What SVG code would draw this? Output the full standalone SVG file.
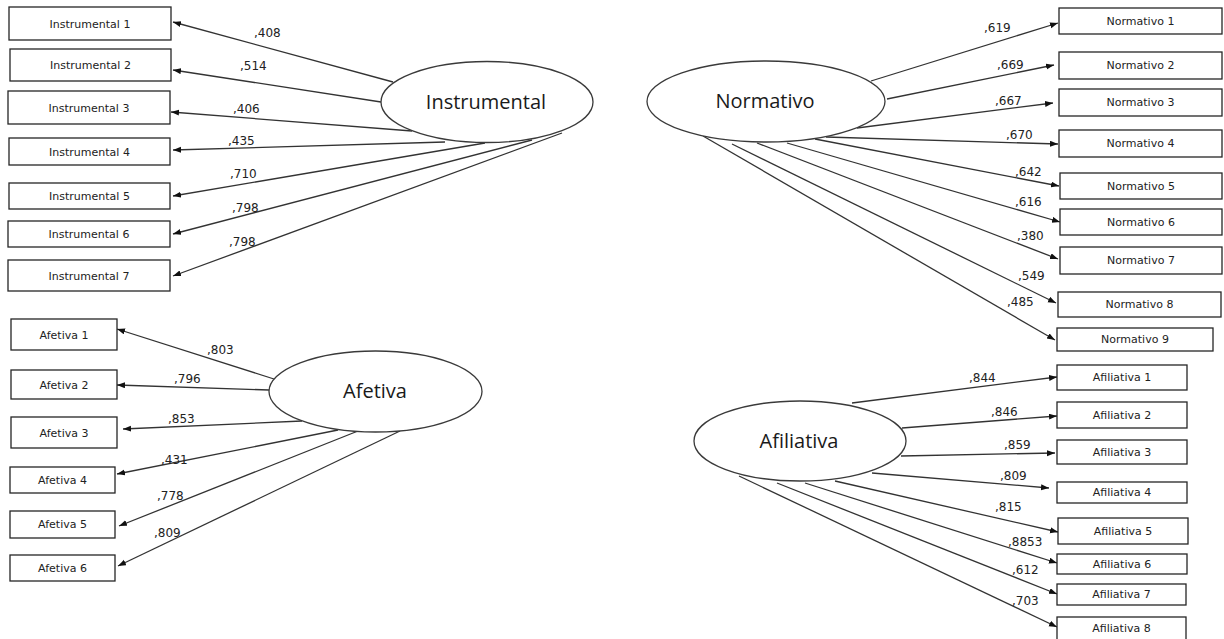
<svg xmlns="http://www.w3.org/2000/svg" width="1224" height="639" viewBox="0 0 1224 639">
<defs>
<style>
.box{fill:#fff;stroke:#262626;stroke-width:1.3}
.lat{fill:#fff;stroke:#3a3a3a;stroke-width:1.3}
.bt{font-family:"DejaVu Sans",Verdana,sans-serif;font-size:11px;fill:#222;text-anchor:middle}
.lt{font-family:"Open Sans",sans-serif;font-size:20px;fill:#1a1a1a;text-anchor:middle}
.num{font-family:"DejaVu Sans",Verdana,sans-serif;font-size:12px;fill:#222}
.c{stroke:#333;stroke-width:1.3;fill:none;marker-end:url(#ah)}
</style>
<marker id="ah" markerUnits="userSpaceOnUse" markerWidth="9" markerHeight="7" refX="8" refY="3" orient="auto">
<path d="M0,0 L8,3 L0,6 z" fill="#111"/>
</marker>
</defs>
<rect width="1224" height="639" fill="#fff"/>

<g id="connectors">
<line class="c" x1="393" y1="82" x2="173" y2="22"/>
<line class="c" x1="381" y1="102" x2="173" y2="70"/>
<line class="c" x1="412" y1="131" x2="171" y2="112"/>
<line class="c" x1="445" y1="142" x2="173" y2="150"/>
<line class="c" x1="485" y1="143" x2="173" y2="196"/>
<line class="c" x1="532" y1="140" x2="173" y2="234"/>
<line class="c" x1="562" y1="133" x2="173" y2="276"/>

<line class="c" x1="871" y1="81" x2="1058" y2="23"/>
<line class="c" x1="887" y1="99" x2="1054" y2="65"/>
<line class="c" x1="857" y1="128" x2="1053" y2="103"/>
<line class="c" x1="826" y1="137" x2="1058" y2="144"/>
<line class="c" x1="815" y1="139" x2="1059" y2="186"/>
<line class="c" x1="787" y1="143" x2="1060" y2="222"/>
<line class="c" x1="757" y1="143" x2="1058" y2="259"/>
<line class="c" x1="732" y1="144" x2="1056" y2="303"/>
<line class="c" x1="703" y1="136" x2="1055" y2="340"/>

<line class="c" x1="274" y1="379" x2="117" y2="329"/>
<line class="c" x1="269" y1="390" x2="117" y2="385"/>
<line class="c" x1="302" y1="421" x2="123" y2="429"/>
<line class="c" x1="338" y1="430" x2="117" y2="474"/>
<line class="c" x1="358" y1="431" x2="119" y2="526"/>
<line class="c" x1="400" y1="431" x2="118" y2="566"/>

<line class="c" x1="852" y1="403" x2="1057" y2="377"/>
<line class="c" x1="902" y1="428" x2="1057" y2="416"/>
<line class="c" x1="901" y1="456" x2="1055" y2="453"/>
<line class="c" x1="872" y1="473" x2="1049" y2="488"/>
<line class="c" x1="835" y1="481" x2="1058" y2="532"/>
<line class="c" x1="805" y1="483" x2="1057" y2="563"/>
<line class="c" x1="777" y1="483" x2="1057" y2="594"/>
<line class="c" x1="739" y1="476" x2="1057" y2="627"/>
</g>

<g id="loadings">
<text class="num" x="254" y="37">,408</text>
<text class="num" x="240" y="70">,514</text>
<text class="num" x="233" y="113">,406</text>
<text class="num" x="228" y="145">,435</text>
<text class="num" x="230" y="178">,710</text>
<text class="num" x="232" y="212">,798</text>
<text class="num" x="229" y="246">,798</text>

<text class="num" x="984" y="32">,619</text>
<text class="num" x="997" y="69">,669</text>
<text class="num" x="995" y="105">,667</text>
<text class="num" x="1006" y="139">,670</text>
<text class="num" x="1015" y="176">,642</text>
<text class="num" x="1015" y="206">,616</text>
<text class="num" x="1017" y="240">,380</text>
<text class="num" x="1018" y="280">,549</text>
<text class="num" x="1007" y="306">,485</text>

<text class="num" x="207" y="354">,803</text>
<text class="num" x="174" y="383">,796</text>
<text class="num" x="168" y="423">,853</text>
<text class="num" x="161" y="464">,431</text>
<text class="num" x="157" y="500">,778</text>
<text class="num" x="154" y="537">,809</text>

<text class="num" x="969" y="382">,844</text>
<text class="num" x="991" y="416">,846</text>
<text class="num" x="1004" y="449">,859</text>
<text class="num" x="1000" y="480">,809</text>
<text class="num" x="995" y="511">,815</text>
<text class="num" x="1008" y="546">,8853</text>
<text class="num" x="1012" y="574">,612</text>
<text class="num" x="1012" y="605">,703</text>
</g>

<g id="instrumental"><ellipse class="lat" cx="487" cy="102" rx="106" ry="40.5"/><text class="lt" x="486" y="109">Instrumental</text></g>
<g id="normativo"><ellipse class="lat" cx="766" cy="101.5" rx="119" ry="40.5"/><text class="lt" x="765" y="108">Normativo</text></g>
<g id="afetiva"><ellipse class="lat" cx="375.5" cy="391.5" rx="106.5" ry="40.5"/><text class="lt" x="375" y="398">Afetiva</text></g>
<g id="afiliativa"><ellipse class="lat" cx="800" cy="441" rx="106" ry="40"/><text class="lt" x="799" y="448">Afiliativa</text></g>

<g id="instrumental1"><rect class="box" x="9" y="7" width="162" height="33"/><text class="bt" x="90" y="28">Instrumental 1</text></g>
<g id="instrumental2"><rect class="box" x="10" y="49" width="161" height="32"/><text class="bt" x="90.5" y="69">Instrumental 2</text></g>
<g id="instrumental3"><rect class="box" x="8" y="91" width="162" height="33"/><text class="bt" x="89" y="112">Instrumental 3</text></g>
<g id="instrumental4"><rect class="box" x="9" y="138" width="161" height="27"/><text class="bt" x="89.5" y="156">Instrumental 4</text></g>
<g id="instrumental5"><rect class="box" x="9" y="183" width="161" height="26"/><text class="bt" x="89.5" y="200">Instrumental 5</text></g>
<g id="instrumental6"><rect class="box" x="8" y="221" width="162" height="26"/><text class="bt" x="89" y="238">Instrumental 6</text></g>
<g id="instrumental7"><rect class="box" x="8" y="260" width="162" height="31"/><text class="bt" x="89" y="280">Instrumental 7</text></g>

<g id="normativo1"><rect class="box" x="1059" y="8" width="163" height="26"/><text class="bt" x="1140.5" y="25">Normativo 1</text></g>
<g id="normativo2"><rect class="box" x="1059" y="52" width="163" height="27"/><text class="bt" x="1140.5" y="69">Normativo 2</text></g>
<g id="normativo3"><rect class="box" x="1059" y="89" width="163" height="27"/><text class="bt" x="1140.5" y="106">Normativo 3</text></g>
<g id="normativo4"><rect class="box" x="1059" y="130" width="163" height="27"/><text class="bt" x="1140.5" y="147">Normativo 4</text></g>
<g id="normativo5"><rect class="box" x="1060" y="173" width="162" height="26"/><text class="bt" x="1141" y="190">Normativo 5</text></g>
<g id="normativo6"><rect class="box" x="1060" y="209" width="162" height="26"/><text class="bt" x="1141" y="226">Normativo 6</text></g>
<g id="normativo7"><rect class="box" x="1060" y="247" width="162" height="27"/><text class="bt" x="1141" y="264">Normativo 7</text></g>
<g id="normativo8"><rect class="box" x="1058" y="292" width="163" height="25"/><text class="bt" x="1139.5" y="308">Normativo 8</text></g>
<g id="normativo9"><rect class="box" x="1057" y="328" width="156" height="23"/><text class="bt" x="1135" y="343">Normativo 9</text></g>

<g id="afetiva1"><rect class="box" x="11" y="319" width="106" height="31"/><text class="bt" x="64" y="339">Afetiva 1</text></g>
<g id="afetiva2"><rect class="box" x="11" y="370" width="106" height="29"/><text class="bt" x="64" y="389">Afetiva 2</text></g>
<g id="afetiva3"><rect class="box" x="11" y="417" width="106" height="31"/><text class="bt" x="64" y="437">Afetiva 3</text></g>
<g id="afetiva4"><rect class="box" x="10" y="467" width="105" height="26"/><text class="bt" x="62.5" y="484">Afetiva 4</text></g>
<g id="afetiva5"><rect class="box" x="10" y="511" width="105" height="27"/><text class="bt" x="62.5" y="528">Afetiva 5</text></g>
<g id="afetiva6"><rect class="box" x="10" y="555" width="105" height="26"/><text class="bt" x="62.5" y="572">Afetiva 6</text></g>

<g id="afiliativa1"><rect class="box" x="1057" y="365" width="130" height="25"/><text class="bt" x="1122" y="381">Afiliativa 1</text></g>
<g id="afiliativa2"><rect class="box" x="1057" y="402" width="130" height="26"/><text class="bt" x="1122" y="419">Afiliativa 2</text></g>
<g id="afiliativa3"><rect class="box" x="1057" y="440" width="130" height="24"/><text class="bt" x="1122" y="456">Afiliativa 3</text></g>
<g id="afiliativa4"><rect class="box" x="1057" y="482" width="130" height="21"/><text class="bt" x="1122" y="496">Afiliativa 4</text></g>
<g id="afiliativa5"><rect class="box" x="1058" y="518" width="130" height="26"/><text class="bt" x="1123" y="535">Afiliativa 5</text></g>
<g id="afiliativa6"><rect class="box" x="1057" y="554" width="130" height="20"/><text class="bt" x="1122" y="568">Afiliativa 6</text></g>
<g id="afiliativa7"><rect class="box" x="1057" y="584" width="129" height="21"/><text class="bt" x="1121.5" y="598">Afiliativa 7</text></g>
<g id="afiliativa8"><rect class="box" x="1057" y="617" width="129" height="26"/><text class="bt" x="1121.5" y="632">Afiliativa 8</text></g>
</svg>
